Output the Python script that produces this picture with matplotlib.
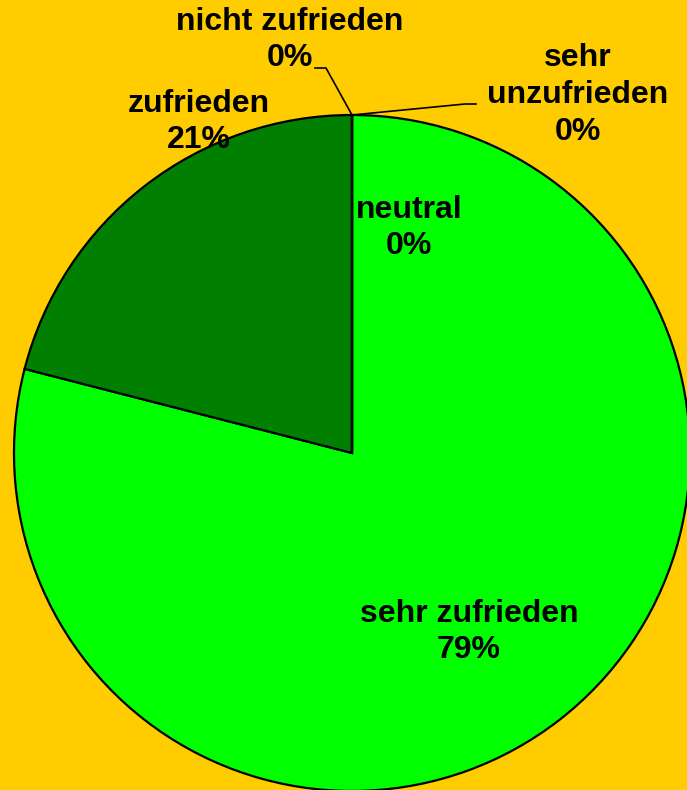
import numpy as np
import matplotlib
matplotlib.use("Agg")
import matplotlib.pyplot as plt

categories = ["sehr zufrieden", "zufrieden", "neutral", "nicht zufrieden", "sehr unzufrieden"]
values = [79, 21, 0, 0, 0]
colors = ["#00FF00", "#007F00", "#FFFFFF", "#FFFFFF", "#FFFFFF"]
bg = "#FFCC00"

W, H = 687, 790
fig = plt.figure(figsize=(W / 100, H / 100), dpi=100, facecolor=bg)
ax = fig.add_axes([0, 0, 1, 1])
ax.set_facecolor(bg)

cx, cy, R = 352, H - 453, 338
wedges, _ = ax.pie(values, colors=colors, startangle=90, counterclock=False,
                   center=(cx, cy), radius=R,
                   wedgeprops=dict(edgecolor="black", linewidth=1.6))
ax.set_xlim(0, W)
ax.set_ylim(0, H)
ax.set_aspect("equal")
ax.axis("off")

total = sum(values)
pct = [f"{round(v / total * 100)}%" for v in values]
font = dict(family=["Liberation Sans", "DejaVu Sans"], fontsize=23, fontweight="bold",
            color="black", ha="center", va="center", linespacing=1.3)

def P(px, py):
    return px, H - py

# inside labels
ax.text(*P(469, 632), f"{categories[0]}\n{pct[0]}", **font)
ax.text(*P(199, 122), f"{categories[1]}\n{pct[1]}", **font)
ax.text(*P(409, 228), f"{categories[2]}\n{pct[2]}", **font)

# outside labels with leader lines, anchored to wedge angle (top)
ang = np.deg2rad(90)
tip = (cx + R * np.cos(ang), cy + R * np.sin(ang))
ax.text(*P(290, 40), f"{categories[3]}\n{pct[3]}", **font)
ax.plot([tip[0], 326, 315], [tip[1], H - 68, H - 68], color="black", lw=1.2)
ax.text(*P(578, 95), "sehr\nunzufrieden\n" + pct[4], **font)
ax.plot([tip[0], 465, 476], [tip[1], H - 104, H - 104], color="black", lw=1.2)

fig.savefig("out.png", dpi=100, facecolor=bg)
